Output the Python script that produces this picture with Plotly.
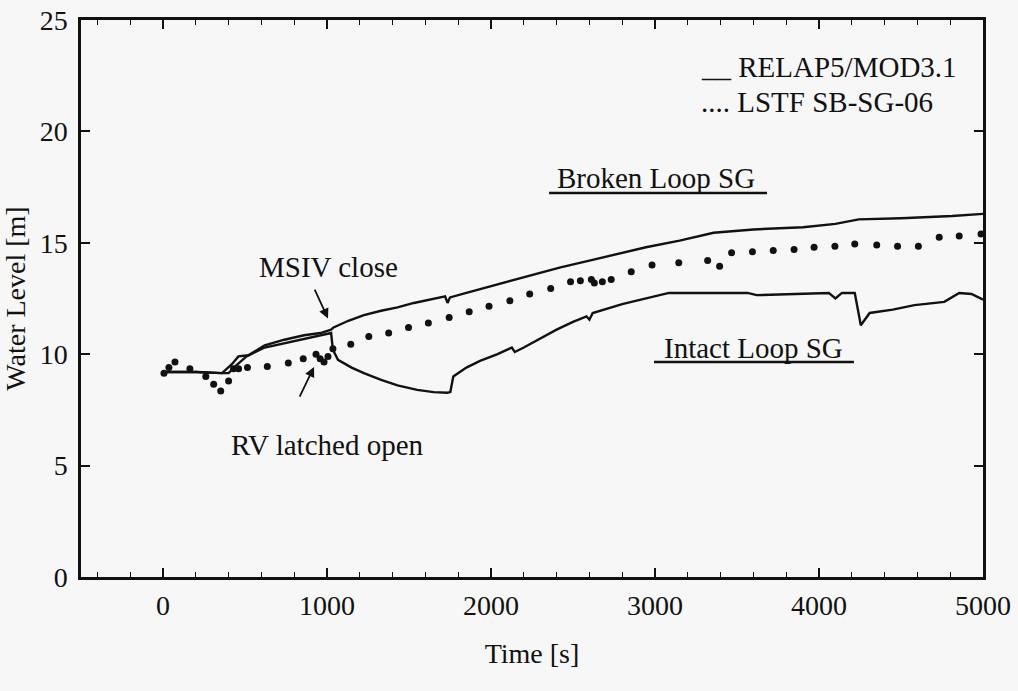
import plotly.graph_objects as go

# ---- data ----
broken_t = [0, 100, 200, 360, 420, 460, 520, 620, 740, 860, 960, 1025, 1040, 1130, 1225,
            1330, 1430, 1530, 1630, 1720, 1735, 1750, 1850, 2000, 2200, 2424, 2600, 2800,
            2945, 3150, 3357, 3600, 3903, 4100, 4242, 4500, 4812, 5000]
broken_y = [9.2, 9.2, 9.2, 9.15, 9.55, 9.9, 9.95, 10.4, 10.65, 10.85, 10.95, 11.1, 11.2, 11.5,
            11.75, 11.95, 12.1, 12.3, 12.45, 12.6, 12.3, 12.55, 12.75, 13.05, 13.45, 13.9,
            14.2, 14.55, 14.8, 15.1, 15.45, 15.6, 15.7, 15.85, 16.05, 16.1, 16.2, 16.3]

intact_t = [0, 100, 200, 360, 400, 440, 509, 620, 740, 860, 960, 1025, 1036, 1067, 1150,
            1225, 1330, 1430, 1550, 1650, 1733, 1752, 1770, 1850, 1933, 2040, 2127, 2145,
            2200, 2300, 2400, 2500, 2582, 2600, 2620, 2800, 3000, 3085, 3300, 3564, 3620,
            3800, 4060, 4100, 4140, 4218, 4255, 4309, 4450, 4582, 4764, 4855, 4930, 5000]
intact_y = [9.2, 9.2, 9.2, 9.15, 9.15, 9.45, 9.9, 10.3, 10.5, 10.7, 10.85, 10.95, 10.2, 9.75,
            9.4, 9.15, 8.85, 8.6, 8.4, 8.3, 8.27, 8.3, 9.0, 9.4, 9.7, 10.0, 10.3, 10.1,
            10.3, 10.7, 11.1, 11.45, 11.7, 11.55, 11.85, 12.25, 12.6, 12.75, 12.75, 12.75,
            12.65, 12.7, 12.75, 12.5, 12.75, 12.75, 11.3, 11.85, 12.0, 12.2, 12.35, 12.75,
            12.7, 12.45]

lstf_t = [6, 36, 73, 164, 261, 309, 352, 400, 430, 461, 515, 636, 764, 855, 933, 958, 982,
          1006, 1036, 1145, 1255, 1376, 1497, 1618, 1745, 1867, 1988, 2115, 2236, 2364,
          2485, 2545, 2612, 2630, 2679, 2733, 2855, 2982, 3145, 3321, 3394, 3467, 3594,
          3721, 3848, 3970, 4097, 4218, 4352, 4479, 4606, 4733, 4855, 4988]
lstf_y = [9.15, 9.4, 9.65, 9.35, 9.0, 8.65, 8.35, 8.8, 9.35, 9.35, 9.4, 9.45, 9.6, 9.8, 10.0,
          9.8, 9.65, 9.9, 10.25, 10.45, 10.8, 10.95, 11.2, 11.4, 11.65, 11.9, 12.15, 12.4,
          12.7, 12.95, 13.25, 13.3, 13.35, 13.2, 13.25, 13.35, 13.7, 14.0, 14.1, 14.2,
          13.95, 14.55, 14.6, 14.65, 14.7, 14.8, 14.85, 14.95, 14.9, 14.85, 14.85, 15.25,
          15.3, 15.4]

x_ticks = [0, 1000, 2000, 3000, 4000, 5000]
y_ticks = [0, 5, 10, 15, 20, 25]

FONT = "Liberation Serif"
INK = "#111111"
BG = "#f7f7f7"

fig = go.Figure()
fig.add_trace(go.Scatter(x=broken_t, y=broken_y, mode="lines", name="RELAP5/MOD3.1 (Broken Loop SG)",
                         line=dict(color=INK, width=2.4), showlegend=False))
fig.add_trace(go.Scatter(x=intact_t, y=intact_y, mode="lines", name="RELAP5/MOD3.1 (Intact Loop SG)",
                         line=dict(color=INK, width=2.4), showlegend=False))
fig.add_trace(go.Scatter(x=lstf_t, y=lstf_y, mode="markers", name="LSTF SB-SG-06",
                         marker=dict(color=INK, size=7), showlegend=False))

tf = dict(family=FONT, size=29, color=INK)

annotations = [
    dict(x=3268, y=22.9, text="__ RELAP5/MOD3.1", showarrow=False, xanchor="left", yanchor="middle", font=tf),
    dict(x=3268, y=21.3, text=".... LSTF SB-SG-06", showarrow=False, xanchor="left", yanchor="middle", font=tf),
    dict(x=3006, y=17.9, text="Broken Loop SG", showarrow=False, font=tf),
    dict(x=3598, y=10.28, text="Intact Loop SG", showarrow=False, font=tf),
    dict(x=1012, y=13.9, text="MSIV close", showarrow=False, font=tf),
    dict(x=1006, y=5.92, text="RV latched open", showarrow=False, font=tf),
    dict(x=1006, y=11.6, ax=921, ay=12.97, axref="x", ayref="y", text="", showarrow=True,
         arrowhead=2, arrowsize=1.1, arrowwidth=1.8, arrowcolor=INK),
    dict(x=921, y=9.43, ax=829, ay=8.03, axref="x", ayref="y", text="", showarrow=True,
         arrowhead=2, arrowsize=1.1, arrowwidth=1.8, arrowcolor=INK),
]
for a in annotations:
    a.setdefault("xref", "x")
    a.setdefault("yref", "y")

shapes = [
    dict(type="line", xref="x", yref="y", x0=2354, x1=3683, y0=17.23, y1=17.23,
         line=dict(color=INK, width=2.5)),
    dict(type="line", xref="x", yref="y", x0=2994, x1=4213, y0=9.65, y1=9.65,
         line=dict(color=INK, width=2.5)),
]

fig.update_layout(
    width=1018, height=691,
    margin=dict(l=81, r=35, t=20, b=114, autoexpand=False),
    paper_bgcolor=BG, plot_bgcolor=BG,
    font=dict(family=FONT, size=28, color=INK),
    annotations=annotations, shapes=shapes,
    showlegend=False,
)
fig.update_xaxes(
    range=[-500, 5000], tickvals=x_ticks, ticktext=[str(v) for v in x_ticks],
    showgrid=False, zeroline=False, showline=True, linecolor=INK, linewidth=2.5,
    mirror="ticks", ticks="inside", ticklen=9, tickwidth=1.5, tickcolor=INK,
    minor=dict(dtick=200, tick0=0, ticks="inside", ticklen=5, tickwidth=1.2, tickcolor=INK),
    tickfont=dict(family=FONT, size=28, color=INK), ticklabelstandoff=2, automargin=False,
    title=dict(text="Time [s]", font=dict(family=FONT, size=28, color=INK), standoff=24),
)
fig.update_yaxes(
    range=[0, 25], tickvals=y_ticks, ticktext=[str(v) for v in y_ticks],
    showgrid=False, zeroline=False, showline=True, linecolor=INK, linewidth=2.5,
    mirror="ticks", ticks="inside", ticklen=9, tickwidth=1.5, tickcolor=INK,
    tickfont=dict(family=FONT, size=28, color=INK), ticklabelstandoff=5, automargin=False,
    title=dict(text="Water Level [m]", font=dict(family=FONT, size=28, color=INK), standoff=8),
)

fig.write_html("out.html", config={"displayModeBar": False},
               post_script="document.body.style.margin='0';document.body.style.overflow='hidden';")
